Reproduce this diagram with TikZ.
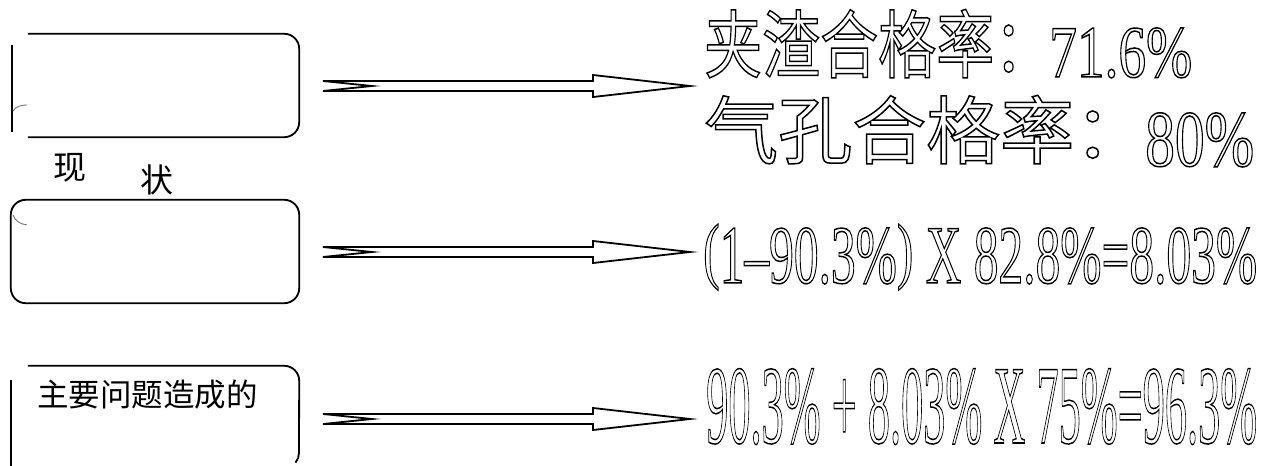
\documentclass[tikz,border=0pt]{standalone}
\usepackage{fontspec}
\usepackage{graphicx}
\setmainfont{Liberation Serif}
\newfontfamily\cjk{Noto Sans CJK SC}
\newfontfamily\numfont{Liberation Serif}
\usetikzlibrary{calc}
\newcommand\hollow[1]{\special{pdf:code 1 Tr 1.5 w}#1\special{pdf:code 0 Tr}}
\newcommand\shortparen[1]{\raisebox{0.1em}{\scalebox{1}[0.88]{#1}}}
\newcommand\fatarrow[2]{\draw[fatarrowstyle] ($(#1)+(0,5)$) -- ($(#2)+(-97,5)$) -- ($(#2)+(-97,11)$) -- (#2) -- ($(#2)+(-97,-11)$) -- ($(#2)+(-97,-5)$) -- ($(#1)+(0,-5)$) -- ($(#1)+(49,0)$) -- cycle;}
\begin{document}
\begin{tikzpicture}[x=1pt,y=1pt,
  boxline/.style={line width=1.8pt, black},
  sideline/.style={line width=1.4pt, black},
  ghost/.style={line width=0.9pt, black!55},
  fatarrowstyle/.style={line width=1.8pt, black, fill=white, line join=miter},
  boxarea/.style={rectangle, minimum width=288pt, inner sep=0pt},
  label/.style={inner sep=0pt, anchor=base west},
  big/.style={inner sep=0pt, anchor=base west}]
\useasboundingbox (0,0) rectangle (1262,466);
% boxes (areas)
\node[boxarea, minimum height=103pt] (box1) at (155,380.5) {};
\node[boxarea, minimum height=103pt] (box2) at (155,214.5) {};
\node[boxarea, minimum height=109pt] (box3) at (155,45.5) {};
% box 1 outline
\draw[boxline] ([xshift=17pt]box1.north west) -- ([xshift=-15pt]box1.north east)
  arc[start angle=90, end angle=0, radius=15pt] -- ([yshift=15pt]box1.south east)
  arc[start angle=0, end angle=-90, radius=15pt] -- ([xshift=17pt]box1.south west);
\draw[sideline] (12,421) -- (12,334);
\draw[ghost] (13,355) .. controls (16,360) and (22,361) .. (27,361);
% box 2 outline
\draw[boxline, rounded corners=15pt] (box2.south west) rectangle (box2.north east);
\draw[ghost] (13,251) .. controls (15,245) and (20,242) .. (27,241);
% box 3 outline
\draw[boxline] ([xshift=17pt]box3.north west) -- ([xshift=-15pt]box3.north east)
  arc[start angle=90, end angle=0, radius=15pt] -- (299,13)
  arc[start angle=0, end angle=-40, radius=15pt];
\draw[sideline] (11,86) -- (11,0);
% labels
\node[label, font=\cjk\fontsize{33}{38}\selectfont] (xian) at (53,286) {现};
\node[label, font=\cjk\fontsize{33}{38}\selectfont] (zhuang) at (140,273) {状};
\node[label, font=\cjk\fontsize{31.5}{36}\selectfont] (cause) at (37,59) {主要问题造成的};
% arrow end points
\coordinate (a1s) at (323,380); \coordinate (a1e) at (690,380);
\coordinate (a2s) at (323,214); \coordinate (a2e) at (690,214);
\coordinate (a3s) at (323,47);  \coordinate (a3e) at (690,47);
\fatarrow{a1s}{a1e}
\fatarrow{a2s}{a2e}
\fatarrow{a3s}{a3e}
% right-hand texts
\node[big] (l1a) at (704,394) {\resizebox{348pt}{\height}{\cjk\fontsize{74}{80}\selectfont\hollow{夹渣合格率：}}};
\node[big] (l1b) at (1049,389) {\resizebox{143pt}{\height}{\numfont\fontsize{74}{80}\selectfont\hollow{71.6\%}}};
\node[big] (l2a) at (704,308) {\resizebox{444pt}{\height}{\cjk\fontsize{74}{80}\selectfont\hollow{气孔合格率：}}};
\node[big] (l2b) at (1145,300) {\resizebox{109pt}{\height}{\numfont\fontsize{80}{86}\selectfont\hollow{80\%}}};
\node[big] (l3) at (703,183) {\resizebox{554pt}{\height}{\numfont\fontsize{83}{90}\selectfont\hollow{\shortparen{(}1\textendash 90.3\%\shortparen{)} X 82.8\%=8.03\%}}};
\node[big] (l4) at (706,23) {\resizebox{551pt}{\height}{\numfont\fontsize{112}{120}\selectfont\hollow{90.3\% + 8.03\% X 75\%=96.3\%}}};
\end{tikzpicture}
\end{document}
